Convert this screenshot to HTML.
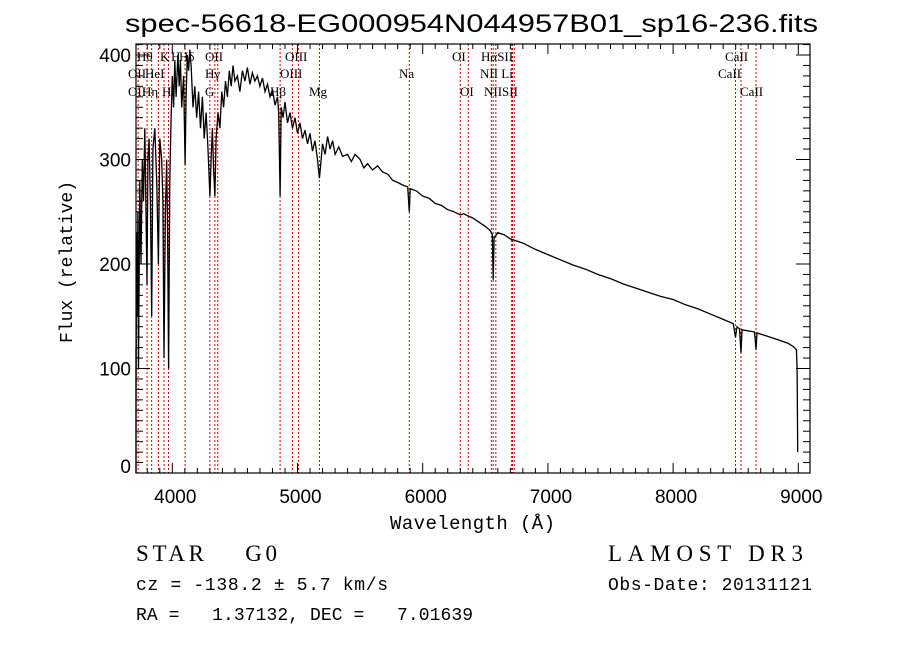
<!DOCTYPE html>
<html><head><meta charset="utf-8"><style>
body{margin:0;background:#fff;}
svg{display:block;}
text{fill:#000;}
</style></head><body>
<svg id="chart" width="900" height="649" xmlns="http://www.w3.org/2000/svg">
<rect width="900" height="649" fill="#fff"/>
<text x="125" y="32" font-family="Liberation Sans, sans-serif" font-size="25" textLength="693" lengthAdjust="spacingAndGlyphs">spec-56618-EG000954N044957B01_sp16-236.fits</text>
<g id="lines"></g>
<g id="labels" font-family="Liberation Serif, serif" font-size="13"></g>
<path id="spec" fill="none" stroke="#000" stroke-width="1.3"/>
<rect x="136" y="44" width="674" height="429" fill="none" stroke="#000" stroke-width="1.2"/>
<g id="ticks" stroke="#000" stroke-width="1"></g>
<g id="ticklabels" font-family="Liberation Sans, sans-serif" font-size="19"></g>
<text x="390" y="529" font-family="Liberation Mono, monospace" font-size="19" textLength="165">Wavelength (Å)</text>
<text x="0" y="0" transform="translate(72,262) rotate(-90)" font-family="Liberation Mono, monospace" font-size="18" text-anchor="middle">Flux (relative)</text>
<text x="136" y="561" font-family="Liberation Serif, serif" font-size="23" textLength="141" xml:space="preserve">STAR    G0</text>
<text x="136" y="590" font-family="Liberation Mono, monospace" font-size="18" textLength="252">cz = -138.2 ± 5.7 km/s</text>
<text x="136" y="620" font-family="Liberation Mono, monospace" font-size="18" textLength="337" xml:space="preserve">RA =   1.37132, DEC =   7.01639</text>
<text x="608" y="561" font-family="Liberation Serif, serif" font-size="23" textLength="195">LAMOST DR3</text>
<text x="608" y="590" font-family="Liberation Mono, monospace" font-size="18" textLength="204">Obs-Date: 20131121</text>
</svg>
<script>
const wavelengths=[3700,3705,3710,3715,3720,3725,3730,3740,3750,3760,3770,3780,3790,3798,3805,3815,3825,3835,3845,3860,3875,3889,3900,3915,3925,3934,3945,3955,3962,3970,3980,3990,4000,4010,4020,4030,4045,4055,4065,4075,4090,4102,4110,4120,4130,4140,4150,4165,4180,4195,4210,4225,4240,4255,4270,4285,4300,4310,4320,4330,4340,4350,4365,4380,4395,4410,4425,4440,4455,4470,4485,4500,4520,4540,4560,4580,4600,4620,4640,4660,4680,4700,4720,4740,4760,4780,4800,4820,4840,4850,4861,4870,4885,4900,4920,4940,4960,4980,5000,5020,5040,5060,5080,5100,5120,5140,5160,5175,5185,5200,5220,5240,5260,5280,5300,5330,5360,5400,5430,5460,5500,5530,5560,5600,5640,5680,5720,5760,5800,5850,5880,5893,5900,5950,6000,6050,6100,6150,6200,6250,6300,6330,6360,6400,6450,6500,6540,6556,6563,6570,6600,6650,6700,6800,6900,7000,7100,7200,7300,7400,7500,7600,7700,7800,7900,8000,8100,8200,8300,8400,8480,8498,8510,8530,8542,8550,8600,8650,8662,8670,8750,8850,8920,8960,8985,8990,8995];
const flux=[0,120,60,230,150,250,100,280,200,300,260,330,250,180,300,320,260,150,310,330,280,200,320,300,260,110,250,300,230,100,280,340,380,350,395,360,400,370,395,350,380,295,360,400,385,405,390,350,370,340,365,330,360,320,345,310,265,300,330,290,265,320,345,330,365,350,375,360,385,370,390,375,380,365,385,375,388,372,383,375,380,370,378,365,372,360,367,352,360,345,265,350,340,355,335,345,330,340,325,335,320,328,315,325,308,318,300,282,295,315,305,322,310,318,305,312,303,305,298,305,300,292,296,290,294,288,286,280,278,275,274,250,272,270,265,263,258,256,252,250,247,248,246,244,240,236,232,228,185,225,230,228,224,220,214,209,204,199,195,190,186,181,177,173,169,166,161,157,152,147,143,130,140,138,115,137,136,135,118,134,131,127,124,121,118,100,20];
const lineWaves=[3727,3798,3835,3889,3934,3970,4102,4300,4340,4363,4861,4959,5007,5175,5893,6300,6364,6548,6563,6584,6708,6717,6731,8498,8542,8662];
const xTickLabels=[4000,5000,6000,7000,8000,9000];
const yTickLabels=[0,100,200,300,400];
const NS='http://www.w3.org/2000/svg';
const X0=136,X1=810,Y0=473,Y1=44;
const WMIN=3710,WMAX=3710+(X1-X0)/0.1252,FMIN=0,FMAX=(Y0-Y1)/1.045;
function xs(w){return X0+(w-WMIN)/(WMAX-WMIN)*(X1-X0);}
function ys(f){return Y0-(f-FMIN)/(FMAX-FMIN)*(Y0-Y1);}
let d='';
wavelengths.forEach((w,i)=>{d+=(i?'L':'M')+Math.max(X0,xs(w)).toFixed(1)+','+ys(flux[i]).toFixed(1);});
document.getElementById('spec').setAttribute('d',d);
const lg=document.getElementById('lines');
lineWaves.forEach(w=>{
 const l=document.createElementNS(NS,'line');
 
 
 l.setAttribute('x1',xs(w));l.setAttribute('x2',xs(w));l.setAttribute('y1',Y1);l.setAttribute('y2',Y0);
 l.setAttribute('stroke','#c00');l.setAttribute('stroke-width','1');l.setAttribute('stroke-dasharray','2,2');
 lg.appendChild(l);
});
const labs=[["Hθ",137,57],["K",160,57],["H",171,57],["Hδ",179,57],["OII",205,57],["OIII",285,57],["OI",452,57],["HαSII",481,57],["CaII",725,57],
["OII",128,74],["HeI",145,74],["Hγ",205,74],["OIII",280,74],["Na",399,74],["NII Li",480,74],["CaII",718,74],
["OII",128,92],["Hη",142,92],["H",162,92],["G",205,92],["Hβ",270,92],["Mg",309,92],["OI",460,92],["NIISII",484,92],["CaII",740,92]];
const lb=document.getElementById('labels');
labs.forEach(a=>{
 const t=document.createElementNS(NS,'text');
 
 
 t.setAttribute('x',a[1]);t.setAttribute('y',a[2]+4);t.textContent=a[0];lb.appendChild(t);
});
const tg=document.getElementById('ticks'),tl=document.getElementById('ticklabels');
function ln(x1,y1,x2,y2){const l=document.createElementNS(NS,'line');
 
 
 l.setAttribute('x1',x1);l.setAttribute('y1',y1);l.setAttribute('x2',x2);l.setAttribute('y2',y2);tg.appendChild(l);}
for(let w=3800;w<=WMAX;w+=100){const x=xs(w),L=(w%1000===0)?10:5;ln(x,Y0,x,Y0-L);ln(x,Y1,x,Y1+L);}
for(let f=10;f<=FMAX;f+=10){const y=ys(f),L=(f%100===0)?14:7;ln(X0,y,X0+L,y);ln(X1,y,X1-L,y);}
xTickLabels.forEach(v=>{const t=document.createElementNS(NS,'text');
 
 
 t.setAttribute('x',xs(v)+3);t.setAttribute('y',Y0+30);t.setAttribute('text-anchor','middle');t.textContent=v;tl.appendChild(t);});
yTickLabels.forEach(v=>{const t=document.createElementNS(NS,'text');
 
 
 t.setAttribute('x',X0-5);t.setAttribute('y',Math.min(ys(v)+7,Y0));t.setAttribute('text-anchor','end');t.textContent=v;tl.appendChild(t);});
</script>
</body></html>
